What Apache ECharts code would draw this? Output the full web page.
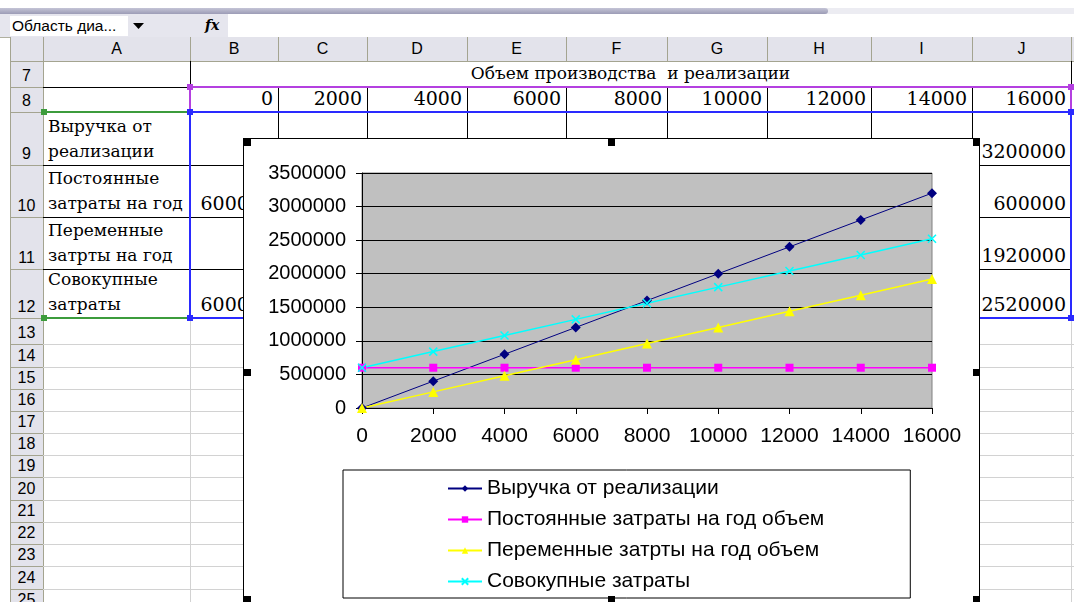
<!DOCTYPE html>
<html>
<head>
<meta charset="utf-8">
<script src="https://cdn.jsdelivr.net/npm/echarts@6/dist/echarts.min.js"></script>
<style>
  html, body { margin: 0; padding: 0; background: #fff; }
  #page { position: relative; width: 1074px; height: 602px; overflow: hidden; background: #fff; }
  .abs { position: absolute; box-sizing: border-box; }
  .hdr { font-family: "Liberation Sans", Arial, sans-serif; font-size: 16px; color: #000; }
  .cell { font-family: "DejaVu Serif", serif; font-size: 17px; color: #000; white-space: pre; overflow: hidden; }
  .num { font-size: 19px; }
  #chartBox { position: absolute; left: 243px; top: 138px; width: 737px; height: 466px; border: 1px solid #000; background: #fff; box-sizing: border-box; z-index: 5; }
  #chart { position: absolute; left: 0; top: 0; width: 735px; height: 464px; }
</style>
</head>
<body>
<div id="page">
  <div id="chartBox"><div id="chart"></div></div>
</div>
<script>
// Production volumes (units per year)
const volumes = [0, 2000, 4000, 6000, 8000, 10000, 12000, 14000, 16000];
// Revenue from sales
const revenue = [0, 400000, 800000, 1200000, 1600000, 2000000, 2400000, 2800000, 3200000];
// Fixed costs per year
const fixedCosts = [600000, 600000, 600000, 600000, 600000, 600000, 600000, 600000, 600000];
// Variable costs per year
const variableCosts = [0, 240000, 480000, 720000, 960000, 1200000, 1440000, 1680000, 1920000];
// Total costs
const totalCosts = [600000, 840000, 1080000, 1320000, 1560000, 1800000, 2040000, 2280000, 2520000];

const seriesNames = [
  'Выручка от реализации',
  'Постоянные затраты на год объем',
  'Переменные затрты на год объем',
  'Совокупные затраты'
];
const rowLabels = [
  ['Выручка от', 'реализации'],
  ['Постоянные', 'затраты на год'],
  ['Переменные', 'затрты на год'],
  ['Совокупные', 'затраты']
];
const tableTitle = 'Объем производства  и реализации';
const colLetters = ['A', 'B', 'C', 'D', 'E', 'F', 'G', 'H', 'I', 'J'];
const nameBoxText = 'Область диа...';

// ---------- worksheet backdrop ----------
const page = document.getElementById('page');
function box(x, y, w, h, css, html) {
  const d = document.createElement('div');
  d.className = 'abs';
  d.style.left = x + 'px'; d.style.top = y + 'px';
  d.style.width = w + 'px'; d.style.height = h + 'px';
  if (css) d.style.cssText += css;
  if (html !== undefined) d.textContent = html;
  page.appendChild(d);
  return d;
}
function hline(x1, x2, y, color, w) { box(x1, y - Math.floor((w || 1) / 2), x2 - x1, w || 1, 'background:' + color); }
function vline(x, y1, y2, color, w) { box(x - Math.floor((w || 1) / 2), y1, w || 1, y2 - y1, 'background:' + color); }

const colEdges = [43, 190, 278, 367, 467, 566, 667, 767, 871, 972, 1071];
const rowEdges = [61, 87, 112, 165, 217, 269, 318];
for (let y = 344.3; y < 640; y += 22.2) rowEdges.push(Math.round(y));
const hdrBg = '#e3e3eb', hdrLine = '#a4a490';

// window strip and formula bar
box(0, 8, 1074, 6, 'background:#ececf2');
box(0, 8, 828, 6, 'background:linear-gradient(#c4c4d6,#9c9cb6);border-radius:0 4px 4px 0');
box(0, 14, 228, 23, 'background:#e6e6ee');
box(10, 16, 118, 20, 'background:#fff');
box(12, 16, 116, 20, 'line-height:20px;font-family:"Liberation Sans",Arial,sans-serif;font-size:15.5px', nameBoxText);
box(133, 23, 11, 6, 'background:#000;clip-path:polygon(0 0,100% 0,50% 100%)');
box(205, 15, 20, 20, 'font-family:"DejaVu Serif",serif;font-style:italic;font-weight:bold;font-size:14px;line-height:20px', 'fx');
hline(0, 1074, 37, '#b0b0a0');

// column headers
box(10, 37, 1064, 24, 'background:' + hdrBg);
box(10, 37, 33, 565, 'background:' + hdrBg);
vline(10, 37, 602, hdrLine);
vline(43, 37, 602, hdrLine);
hline(10, 1074, 61, hdrLine);
for (let i = 0; i < colLetters.length; i++) {
  vline(colEdges[i + 1], 37, 61, hdrLine);
  box(colEdges[i], 37, colEdges[i + 1] - colEdges[i], 24, 'text-align:center;line-height:24px', colLetters[i]).classList.add('hdr');
}
// row headers
for (let r = 0; r < rowEdges.length - 1; r++) {
  const top = rowEdges[r], bot = rowEdges[r + 1];
  hline(10, 43, bot, hdrLine);
  const t = box(10, top, 33, bot - top, 'text-align:center;display:flex;align-items:flex-end;justify-content:center;padding-bottom:2px', String(r + 7));
  t.classList.add('hdr');
}

// light gridlines below the table
for (let r = 7; r < rowEdges.length; r++) hline(43, 1074, rowEdges[r], '#d2d2d2');
for (let c = 1; c < colEdges.length; c++) vline(colEdges[c], 318, 602, '#d2d2d2');

// table cells
function cellText(c0, c1, r, str, align, lines, isNum) {
  const x = colEdges[c0], w = colEdges[c1] - colEdges[c0];
  const y = rowEdges[r], h = rowEdges[r + 1] - rowEdges[r];
  const d = box(x, y, w, h, 'display:flex;flex-direction:column;justify-content:flex-end;line-height:25px;padding:0 5px 1px 5px;text-align:' + align);
  d.classList.add('cell');
  if (isNum) d.classList.add('num');
  (lines || [str]).forEach(s => { const p = document.createElement('div'); p.textContent = s; d.appendChild(p); });
}
cellText(1, 10, 0, tableTitle, 'center');
volumes.forEach((v, i) => cellText(i + 1, i + 2, 1, String(v), 'right', null, true));
const tableRows = [revenue, fixedCosts, variableCosts, totalCosts];
tableRows.forEach((arr, r) => {
  cellText(0, 1, r + 2, '', 'left', rowLabels[r]);
  arr.forEach((v, i) => cellText(i + 1, i + 2, r + 2, String(v), 'right', null, true));
});

// table borders
[87, 165, 217, 269].forEach(y => hline(43, 1071, y, '#000'));
vline(190, 61, 318, '#000');
vline(1071, 61, 318, '#000');
for (let c = 2; c < colEdges.length - 1; c++) vline(colEdges[c], 87, 318, '#000');
// selection outlines
const purple = '#b440e0', blue = '#2a2aff', green = '#3c9c3c';
hline(190, 1071, 87, purple, 2);
vline(190, 87, 112, purple, 2);
vline(1071, 87, 112, purple, 2);
hline(43, 190, 112, green, 2);
hline(43, 190, 318, green, 2);
hline(190, 1071, 112, blue, 2);
hline(190, 1071, 318, blue, 2);
vline(190, 112, 318, blue, 2);
vline(1071, 112, 318, blue, 2);
function handle(x, y, color) { box(x - 3, y - 3, 6, 6, 'background:' + color); }
handle(190, 87, purple); handle(1071, 87, purple);
handle(44, 112, green); handle(44, 318, green);
handle(190, 112, blue); handle(1071, 112, blue);
handle(190, 318, blue); handle(1071, 318, blue);

// chart object sizing handles
[[244, 139], [608, 139], [973, 139], [244, 369], [973, 369], [244, 596], [608, 596], [973, 596]].forEach(p => {
  box(p[0], p[1], 7, 7, 'background:#000;z-index:6');
});

// ---------- chart ----------
const chart = echarts.init(document.getElementById('chart'), null, { renderer: 'canvas' });
const pairs = arr => volumes.map((v, i) => [v, arr[i]]);
const font = '"Liberation Sans", Arial, sans-serif';
const xMark = 'path://M0,0L10,10M10,0L0,10';
const plain = v => String(v);

chart.setOption({
  animation: false,
  backgroundColor: '#fff',
  textStyle: { fontFamily: font, color: '#000' },
  grid: {
    left: 118, top: 34, width: 570, height: 235,
    show: true, backgroundColor: '#c0c0c0', borderColor: '#808080', borderWidth: 1
  },
  xAxis: {
    type: 'value', min: 0, max: 16000, interval: 2000,
    axisLine: { show: true, lineStyle: { color: '#000', width: 1 } },
    axisTick: { show: true, inside: false, length: 6, lineStyle: { color: '#000' } },
    splitLine: { show: false },
    axisLabel: { fontSize: 21, color: '#000', margin: 18, fontFamily: font, formatter: plain }
  },
  yAxis: {
    type: 'value', min: 0, max: 3500000, interval: 500000,
    axisLine: { show: true, lineStyle: { color: '#000', width: 1 } },
    axisTick: { show: true, inside: false, length: 6, lineStyle: { color: '#000' } },
    splitLine: { show: true, lineStyle: { color: '#000', width: 1 } },
    axisLabel: { fontSize: 20, color: '#000', margin: 16, fontFamily: font, formatter: plain }
  },
  legend: {
    orient: 'vertical', left: 99, top: 331,
    padding: [8, 86, 6, 104],
    itemWidth: 34, itemHeight: 8, itemGap: 10,
    borderColor: '#000', borderWidth: 1,
    selectedMode: false,
    textStyle: { fontSize: 21, lineHeight: 21, color: '#000', fontFamily: font }
  },
  series: [
    { name: seriesNames[0], type: 'line', data: pairs(revenue), symbol: 'diamond', symbolSize: 10,
      lineStyle: { color: '#000080', width: 1 }, itemStyle: { color: '#000080' } },
    { name: seriesNames[1], type: 'line', data: pairs(fixedCosts), symbol: 'rect', symbolSize: 8,
      lineStyle: { color: '#ff00ff', width: 1.5 }, itemStyle: { color: '#ff00ff' } },
    { name: seriesNames[2], type: 'line', data: pairs(variableCosts), symbol: 'triangle', symbolSize: 10,
      lineStyle: { color: '#ffff00', width: 1.5 }, itemStyle: { color: '#ffff00' } },
    { name: seriesNames[3], type: 'line', data: pairs(totalCosts), symbol: xMark, symbolSize: 8,
      lineStyle: { color: '#00ffff', width: 1.5 }, itemStyle: { color: '#00ffff', borderColor: '#00ffff', borderWidth: 1.5 } }
  ]
});
</script>
</body>
</html>
